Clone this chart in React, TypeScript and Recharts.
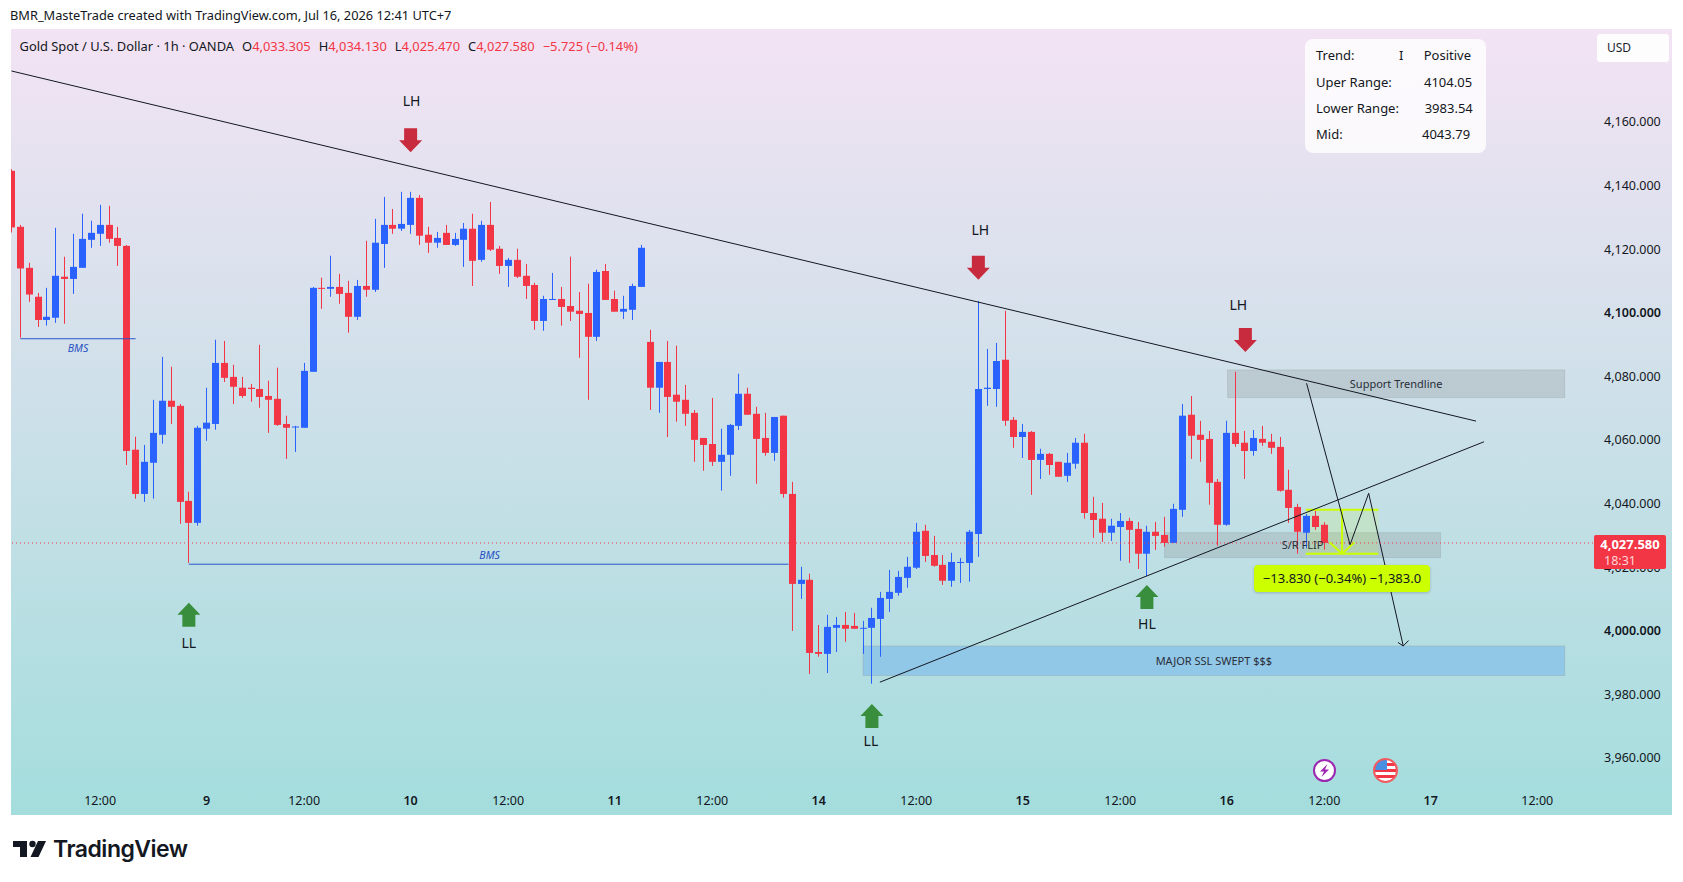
import React from "react"
import {
  Bar,
  ComposedChart,
  ReferenceArea,
  ReferenceDot,
  ReferenceLine,
  XAxis,
  YAxis,
} from "recharts"

const opens = [
  4144.6, 4127.0, 4114.1, 4105.0, 4097.7, 4098.4, 4111.3, 4110.6, 4114.1, 4122.9, 4124.8, 4127.6, 4123.5, 4121.0, 4056.9,
  4043.0, 4052.8, 4061.6, 4072.3, 4070.7, 4040.8, 4033.9, 4063.5, 4065.0, 4084.2, 4079.8, 4076.4, 4076.4, 4076.0, 4073.8,
  4072.9, 4065.0, 4063.9, 4063.8, 4081.4, 4107.8, 4107.5, 4108.1, 4106.2, 4098.7, 4108.4, 4107.2, 4121.6, 4127.6, 4126.4,
  4127.6, 4136.1, 4124.5, 4122.0, 4125.1, 4121.3, 4122.9, 4126.4, 4116.6, 4127.6, 4120.1, 4114.7, 4116.6, 4111.6, 4108.7,
  4097.4, 4104.0, 4104.3, 4102.1, 4100.6, 4099.9, 4092.4, 4113.1, 4104.3, 4100.3, 4100.9, 4108.1, 4090.8, 4076.4, 4084.5,
  4074.2, 4072.6, 4068.5, 4060.6, 4058.7, 4053.1, 4055.3, 4064.4, 4074.5, 4068.2, 4060.6, 4055.9, 4067.6, 4043.0, 4014.7,
  4016.0, 3993.3, 3992.7, 4000.9, 4001.8, 4001.5, 4000.6, 4000.9, 4003.7, 4010.0, 4011.9, 4016.6, 4019.8, 4031.4, 4023.8,
  4020.7, 4015.7, 4021.3, 4021.3, 4030.4, 4076.0, 4076.0, 4085.2, 4066.3, 4060.9, 4062.5, 4053.7, 4055.6, 4053.1, 4048.7,
  4052.5, 4059.1, 4037.0, 4035.2, 4030.8, 4032.6, 4034.5, 4032.0, 4024.2, 4031.1, 4030.1, 4027.6, 4038.0, 4067.9, 4061.6,
  4060.3, 4046.8, 4033.3, 4062.2, 4059.1, 4056.5, 4060.3, 4059.4, 4057.8, 4044.3, 4038.9, 4030.8, 4036.1, 4033.305,
]
const highs = [
  4145.1, 4127.6, 4115.7, 4106.2, 4107.8, 4126.7, 4117.6, 4124.8, 4131.1, 4128.9, 4133.9, 4133.6, 4127.0, 4121.3, 4061.0,
  4058.4, 4072.6, 4086.1, 4083.0, 4071.3, 4043.7, 4064.4, 4076.4, 4091.5, 4091.1, 4083.6, 4079.8, 4077.6, 4089.9, 4078.6,
  4082.7, 4067.6, 4064.4, 4084.2, 4108.1, 4111.0, 4117.9, 4112.2, 4110.0, 4110.3, 4122.6, 4129.5, 4136.4, 4132.6, 4138.0,
  4138.0, 4137.0, 4127.0, 4125.4, 4127.6, 4125.1, 4128.2, 4131.1, 4128.9, 4134.8, 4121.0, 4117.2, 4120.1, 4115.3, 4109.4,
  4105.3, 4112.5, 4108.1, 4117.6, 4106.5, 4109.1, 4113.5, 4115.3, 4106.9, 4105.3, 4109.1, 4121.3, 4094.6, 4084.5, 4091.1,
  4089.6, 4077.3, 4069.4, 4060.6, 4073.2, 4063.5, 4065.0, 4080.8, 4076.4, 4070.4, 4068.5, 4067.2, 4067.6, 4046.8, 4020.1,
  4017.9, 4001.8, 4005.0, 4004.3, 4005.9, 4005.6, 4003.1, 4007.2, 4012.2, 4019.1, 4018.8, 4023.2, 4033.9, 4033.3, 4029.8,
  4023.8, 4024.5, 4022.9, 4031.7, 4103.7, 4088.6, 4090.5, 4100.6, 4067.2, 4065.0, 4062.8, 4057.2, 4055.9, 4053.1, 4055.9,
  4060.6, 4061.9, 4042.1, 4040.2, 4035.2, 4037.0, 4035.5, 4034.2, 4033.0, 4034.2, 4035.8, 4039.9, 4071.3, 4073.8, 4066.0,
  4062.8, 4047.7, 4066.0, 4081.4, 4062.8, 4063.1, 4064.4, 4061.9, 4060.9, 4050.6, 4039.9, 4036.7, 4037.7, 4034.13,
]
const lows = [
  4125.2, 4092.1, 4103.4, 4095.5, 4095.9, 4096.8, 4096.5, 4105.9, 4114.1, 4120.4, 4121.0, 4122.0, 4114.7, 4052.1, 4041.5,
  4040.5, 4041.5, 4058.8, 4065.0, 4033.6, 4021.3, 4033.0, 4059.7, 4063.2, 4078.2, 4071.3, 4073.2, 4072.0, 4070.1, 4062.2,
  4064.4, 4054.0, 4056.2, 4063.8, 4081.4, 4101.2, 4105.0, 4102.8, 4093.7, 4097.7, 4105.0, 4106.5, 4114.1, 4124.8, 4125.7,
  4124.8, 4121.3, 4118.8, 4120.4, 4121.3, 4121.0, 4114.4, 4108.4, 4116.0, 4119.4, 4112.2, 4108.1, 4110.9, 4104.3, 4094.6,
  4094.3, 4104.0, 4095.9, 4097.4, 4085.8, 4072.6, 4091.1, 4104.0, 4100.3, 4098.0, 4097.7, 4108.1, 4069.4, 4068.5, 4060.9,
  4065.7, 4064.4, 4053.1, 4050.3, 4051.8, 4044.0, 4048.7, 4063.1, 4067.9, 4046.2, 4055.0, 4053.4, 4041.8, 3999.9, 4010.0,
  3986.4, 3991.8, 3986.7, 3993.3, 3996.5, 4000.6, 3992.7, 3983.3, 3991.8, 4005.9, 4011.0, 4013.5, 4019.4, 4021.6, 4020.1,
  4014.4, 4013.8, 4015.0, 4015.4, 4023.2, 4070.7, 4070.4, 4064.4, 4057.5, 4054.3, 4042.7, 4047.7, 4049.0, 4048.4, 4046.8,
  4050.9, 4035.2, 4029.2, 4027.9, 4028.2, 4022.0, 4021.3, 4019.4, 4017.2, 4025.4, 4026.4, 4027.6, 4035.8, 4054.0, 4053.1,
  4039.6, 4026.7, 4033.0, 4057.8, 4047.7, 4055.0, 4058.1, 4055.6, 4043.7, 4033.9, 4024.2, 4025.9, 4031.7, 4025.47,
]
const closes = [
  4126.8, 4113.9, 4105.7, 4097.7, 4098.7, 4111.6, 4110.6, 4114.4, 4123.2, 4125.1, 4127.6, 4123.2, 4121.0, 4056.5, 4043.0,
  4053.1, 4062.2, 4072.3, 4070.4, 4040.5, 4033.9, 4063.8, 4065.4, 4084.2, 4079.5, 4076.7, 4073.8, 4076.0, 4073.5, 4072.6,
  4064.7, 4063.8, 4064.2, 4081.7, 4107.8, 4107.5, 4108.1, 4105.9, 4098.7, 4108.4, 4107.2, 4122.0, 4127.6, 4126.4, 4127.9,
  4136.1, 4124.2, 4122.0, 4123.5, 4121.3, 4123.2, 4126.4, 4116.3, 4127.6, 4119.8, 4114.7, 4116.6, 4111.3, 4108.4, 4097.4,
  4104.3, 4104.3, 4101.8, 4100.3, 4099.6, 4092.4, 4112.8, 4104.0, 4100.3, 4101.2, 4108.4, 4120.4, 4076.4, 4084.5, 4073.5,
  4072.0, 4068.2, 4060.0, 4058.4, 4053.1, 4055.3, 4064.7, 4074.5, 4067.9, 4060.3, 4055.9, 4067.2, 4043.0, 4014.7, 4016.0,
  3993.0, 3992.7, 4001.2, 4001.8, 4000.6, 4000.6, 4000.9, 4004.0, 4010.3, 4012.2, 4016.9, 4020.1, 4031.1, 4023.5, 4020.4,
  4015.7, 4021.6, 4021.6, 4031.1, 4076.0, 4076.4, 4084.8, 4066.0, 4060.9, 4062.5, 4053.7, 4055.6, 4052.1, 4048.4, 4052.8,
  4059.1, 4037.0, 4034.8, 4030.8, 4033.0, 4034.5, 4031.7, 4024.2, 4031.1, 4029.8, 4027.6, 4038.3, 4067.6, 4061.3, 4060.0,
  4046.5, 4033.3, 4062.2, 4058.7, 4056.5, 4060.6, 4059.1, 4057.5, 4044.0, 4038.6, 4031.1, 4036.1, 4032.6, 4027.58,
]

const priceTicks = [3960, 3980, 4000, 4020, 4040, 4060, 4080, 4100, 4120, 4140, 4160]
const timeTicks = [10, 22, 33, 45, 56, 68, 79, 91, 102, 114, 125, 137, 148, 160, 172]
const timeLabels = ["12:00", "9", "12:00", "10", "12:00", "11", "12:00", "14", "12:00", "15", "12:00", "16", "12:00", "17", "12:00"]

// drawings, in bar index / price
const trendLines = [
  { from: [0, 4176.0], to: [165.1, 4065.9] },
  { from: [97.9, 3983.8], to: [166.0, 4059.4] },
]
const projection = [[146.0, 4077.8], [150.9, 4027.0], [153.0, 4043.2], [156.9, 3995.2]]
const projectionHead = [[156.3, 3996.3], [156.9, 3995.2], [157.5, 3996.9]]
const bmsLines = [
  { from: 1, to: 14, price: 4091.8 },
  { from: 20, to: 87.6, price: 4020.9 },
]
const zones = [
  { left: 137.1, right: 175.1, top: 4082.0, bottom: 4073.3, label: "Support Trendline", kind: "gray" },
  { left: 130.0, right: 161.1, top: 4030.8, bottom: 4023.0, label: "S/R FLIP", kind: "gray" },
  { left: 96.0, right: 175.1, top: 3995.2, bottom: 3985.9, label: "MAJOR SSL SWEPT $$$", kind: "blue" },
]
const bmsNotes = [
  { text: "BMS", bar: 7.5, price: 4089.0 },
  { text: "BMS", bar: 53.9, price: 4023.8 },
]
const swingMarks = [
  { label: "LH", bar: 45, price: 4154.2, down: true, textDx: 1, textDy: -39 },
  { label: "LH", bar: 109, price: 4114.1, down: true, textDx: 2, textDy: -38 },
  { label: "LH", bar: 139.1, price: 4091.4, down: true, textDx: -7, textDy: -35 },
  { label: "LL", bar: 20, price: 4005.0, down: false, textDx: 0, textDy: 28 },
  { label: "LL", bar: 97, price: 3973.2, down: false, textDx: -1, textDy: 25 },
  { label: "HL", bar: 128, price: 4010.6, down: false, textDx: 0, textDy: 27 },
]
const measure = { left: 145.9, right: 154.1, top: 4038.0, bottom: 4024.2, mid: 150.0, headBar: 1.4, headPrice: 4027.8 }
const lastPrice = 4027.58

const infoRows = [
  ["Trend:", "Positive", 1423.7, 56],
  ["Uper Range:", "4104.05", 1424, 83],
  ["Lower Range:", "3983.54", 1424.7, 109],
  ["Mid:", "4043.79", 1422, 135],
]
const ohlcLegend = [
  ["O", "4,033.305"],
  ["H", "4,034.130"],
  ["L", "4,025.470"],
  ["C", "4,027.580"],
]

const candles = opens.map((open, i) => ({
  i,
  open,
  close: closes[i],
  high: highs[i],
  low: lows[i],
  range: [lows[i], highs[i]],
}))

const RED = "#f23645"
const BLUE = "#2962ff"
const LIME = "#ccff00"
const FONT = "'Noto Sans', sans-serif"

function Candle(props: any) {
  const { x, y, width, height, payload } = props
  const color = payload.close >= payload.open ? BLUE : RED
  const k = height / (payload.high - payload.low)
  const top = y + (payload.high - Math.max(payload.open, payload.close)) * k
  const h = Math.max(1, Math.abs(payload.open - payload.close) * k)
  const cx = x + width / 2
  return (
    <g>
      <line x1={Math.floor(cx) + 0.5} x2={Math.floor(cx) + 0.5} y1={y} y2={y + height} stroke={color} strokeWidth={1} />
      <rect x={Math.floor(cx) - 3} y={top} width={7} height={h} fill={color} />
    </g>
  )
}

function PriceTick(props: any) {
  const { x, y, payload } = props
  return (
    <text x={x + 5} y={y + 4.5} fontSize={12.5} fontFamily={FONT} fill="#131722" fontWeight={payload.value % 100 === 0 ? 600 : 400}>
      {payload.value.toLocaleString("en-US", { minimumFractionDigits: 3 })}
    </text>
  )
}

function TimeTick(props: any) {
  const { x, payload } = props
  const label = timeLabels[timeTicks.indexOf(payload.value)]
  return (
    <text x={x} y={776} textAnchor="middle" fontSize={12.5} fontFamily={FONT} fill="#131722" fontWeight={label === "12:00" ? 400 : 600}>
      {label}
    </text>
  )
}

function SwingMark(props: any) {
  const { cx, cy, mark } = props
  const dir = mark.down ? 1 : -1
  const color = mark.down ? "#c92b3e" : "#388e3c"
  const pts = [
    [-6.5, -12], [6.5, -12], [6.5, 0], [11.5, 0], [0, 12], [-11.5, 0], [-6.5, 0],
  ].map(([a, b]) => `${cx + a},${cy + b * dir}`).join(" ")
  return (
    <g>
      <polygon points={pts} fill={color} />
      <text x={cx + mark.textDx} y={cy + mark.textDy + 5} textAnchor="middle" fontSize={14} fontFamily={FONT} fill="#131722">
        {mark.label}
      </text>
    </g>
  )
}

function Note(props: any) {
  const { cx, cy, text } = props
  return (
    <text x={cx} y={cy + 4} textAnchor="middle" fontSize={10.5} fontStyle="italic" fontFamily={FONT} fill="#2a50c4">
      {text}
    </text>
  )
}

function Segment({ from, to, color = "#131722", width = 1 }: any) {
  return (
    <ReferenceLine
      segment={[{ x: from[0], y: from[1] }, { x: to[0], y: to[1] }]}
      stroke={color}
      strokeWidth={width}
      ifOverflow="visible"
    />
  )
}

function Abs({ x, y, children, style }: any) {
  return (
    <div style={{ position: "absolute", left: x, top: y, whiteSpace: "nowrap", fontFamily: FONT, lineHeight: 1, ...style }}>
      {children}
    </div>
  )
}

export default function App() {
  return (
    <div style={{ position: "fixed", left: 0, top: 0, width: 1683, height: 882, background: "#fff", overflow: "hidden" }}>
      <Abs x={10} y={9} style={{ fontSize: 12.8, color: "#131722" }}>
        BMR_MasteTrade created with TradingView.com, Jul 16, 2026 12:41 UTC+7
      </Abs>

      <div
        style={{
          position: "absolute",
          left: 11,
          top: 29,
          width: 1661,
          height: 786,
          background: "linear-gradient(180deg, #f3e3f4 0%, #a4dddd 100%)",
        }}
      >
        <ComposedChart
          width={1661}
          height={786}
          data={candles}
          margin={{ top: 0, right: 0, bottom: 0, left: 0 }}
        >
          <XAxis
            dataKey="i"
            type="number"
            domain={[-0.05, 178.74]}
            allowDataOverflow
            ticks={timeTicks}
            interval={0}
            height={32}
            axisLine={false}
            tickLine={false}
            tick={<TimeTick />}
          />
          <YAxis
            orientation="right"
            type="number"
            domain={[3952.1, 4189.2]}
            allowDataOverflow
            ticks={priceTicks}
            interval={0}
            width={75}
            axisLine={false}
            tickLine={false}
            tickSize={0}
            tick={<PriceTick />}
          />
          <Bar dataKey="range" barSize={7} isAnimationActive={false} shape={<Candle />} />

          {zones.map((z) => (
            <ReferenceArea
              key={z.label}
              x1={z.left}
              x2={z.right}
              y1={z.bottom}
              y2={z.top}
              fill={z.kind === "blue" ? "#86bfe8" : "#8f979c"}
              fillOpacity={z.kind === "blue" ? 0.75 : 0.3}
              stroke="#8f979c"
              strokeOpacity={0.3}
              label={{ value: z.label, position: "center", fontSize: 11, fontFamily: FONT, fill: "#2a2e39" }}
            />
          ))}
          <ReferenceArea
            x1={measure.left}
            x2={measure.right}
            y1={measure.bottom}
            y2={measure.top}
            fill={LIME}
            fillOpacity={0.12}
            stroke="none"
          />
          {Segment({ from: [measure.left, measure.top], to: [measure.right, measure.top], color: LIME, width: 2 })}
          {Segment({ from: [measure.left, measure.bottom], to: [measure.right, measure.bottom], color: LIME, width: 2 })}
          {Segment({ from: [measure.mid, measure.top], to: [measure.mid, measure.bottom], color: LIME, width: 2 })}
          {Segment({ from: [measure.mid - measure.headBar, measure.headPrice], to: [measure.mid, measure.bottom], color: LIME, width: 2 })}
          {Segment({ from: [measure.mid + measure.headBar, measure.headPrice], to: [measure.mid, measure.bottom], color: LIME, width: 2 })}

          {trendLines.map((l) => Segment({ from: l.from, to: l.to }))}
          {projection.slice(1).map((p, i) => Segment({ from: projection[i], to: p }))}
          {projectionHead.slice(1).map((p, i) => Segment({ from: projectionHead[i], to: p }))}
          {bmsLines.map((l) => Segment({ from: [l.from, l.price], to: [l.to, l.price], color: "#2a55cc" }))}

          <ReferenceLine y={lastPrice} stroke={RED} strokeDasharray="1 3" strokeWidth={1} />

          {bmsNotes.map((n) => (
            <ReferenceDot key={n.bar} x={n.bar} y={n.price} ifOverflow="visible" shape={<Note text={n.text} />} />
          ))}
          {swingMarks.map((m) => (
            <ReferenceDot key={m.bar} x={m.bar} y={m.price} ifOverflow="visible" shape={<SwingMark mark={m} />} />
          ))}
        </ComposedChart>
      </div>

      {/* legend */}
      <Abs x={19.5} y={40} style={{ fontSize: 12.9, color: "#131722" }}>
        Gold Spot / U.S. Dollar · 1h · OANDA
        {ohlcLegend.map(([k, v]) => (
          <span key={k} style={{ marginLeft: 8 }}>
            {k}
            <span style={{ color: RED }}>{v}</span>
          </span>
        ))}
        <span style={{ color: RED, marginLeft: 8 }}>−5.725 (−0.14%)</span>
      </Abs>

      {/* info panel */}
      <div
        style={{
          position: "absolute",
          left: 1305,
          top: 39,
          width: 181,
          height: 114,
          borderRadius: 8,
          background: "rgba(255,255,255,0.8)",
        }}
      />
      {infoRows.map(([name, value, x, y]) => (
        <React.Fragment key={name as string}>
          <Abs x={1316} y={(y as number) - 7} style={{ fontSize: 13, color: "#131722" }}>{name}</Abs>
          <Abs x={x} y={(y as number) - 7} style={{ fontSize: 13, color: "#131722" }}>{value}</Abs>
        </React.Fragment>
      ))}
      <Abs x={1399} y={49} style={{ fontSize: 13, color: "#131722" }}>I</Abs>

      {/* measure label */}
      <div
        style={{
          position: "absolute",
          left: 1254,
          top: 565,
          width: 176,
          height: 27,
          borderRadius: 4,
          background: LIME,
          boxShadow: "0 1px 3px rgba(0,0,0,0.2)",
          fontFamily: FONT,
          fontSize: 13,
          lineHeight: "27px",
          textAlign: "center",
          color: "#131722",
        }}
      >
        −13.830 (−0.34%) −1,383.0
      </div>

      {/* scale labels */}
      <div
        style={{
          position: "absolute",
          left: 1597,
          top: 34,
          width: 72,
          height: 28,
          borderRadius: 3,
          background: "#fff",
          opacity: 0.95,
          fontFamily: FONT,
          fontSize: 12,
          lineHeight: "28px",
          paddingLeft: 10,
          boxSizing: "border-box",
          color: "#131722",
        }}
      >
        USD
      </div>
      <div
        style={{
          position: "absolute",
          left: 1594,
          top: 535,
          width: 72,
          height: 34,
          borderRadius: 2,
          background: "#f23645",
          fontFamily: FONT,
          textAlign: "center",
          color: "#fff",
        }}
      >
        <div style={{ fontSize: 13, fontWeight: 700, lineHeight: "17px", marginTop: 1 }}>4,027.580</div>
        <div style={{ fontSize: 12.5, lineHeight: "15px", color: "#ffd5d9", textAlign: "left", paddingLeft: 10 }}>18:31</div>
      </div>

      {/* event icons */}
      <svg style={{ position: "absolute", left: 1300, top: 750 }} width={110} height={45}>
        <circle cx={24.5} cy={20.5} r={10.5} fill="#fff" stroke="#9c27b0" strokeWidth={2} />
        <path d="M27.5 14 L20 21.5 L24 21.5 L21.5 27 L29 19.5 L25 19.5 Z" fill="#9c27b0" />
        <clipPath id="flag">
          <circle cx={85.5} cy={20.5} r={11} />
        </clipPath>
        <g clipPath="url(#flag)">
          <rect x={74} y={9} width={24} height={24} fill="#fff" />
          <rect x={74} y={25} width={24} height={3} fill="#f23645" />
          <rect x={74} y={19} width={24} height={3} fill="#f23645" />
          <rect x={74} y={13} width={24} height={3} fill="#f23645" />
          <rect x={74} y={9} width={13} height={11} fill="#4a90e2" />
        </g>
        <circle cx={85.5} cy={20.5} r={11.5} fill="none" stroke="#f05a60" strokeWidth={2} />
      </svg>

      {/* logo */}
      <svg style={{ position: "absolute", left: 12, top: 838 }} width={36} height={22}>
        <path d="M1 3 H15 V19 H8 V9 H1 Z" fill="#131722" />
        <circle cx={20.5} cy={6} r={3.2} fill="#131722" />
        <path d="M26 3 H34 L26.5 19 H18.5 Z" fill="#131722" />
      </svg>
      <Abs x={53} y={838} style={{ fontFamily: "Inter, sans-serif", fontSize: 23, fontWeight: 600, letterSpacing: -0.5, color: "#131722" }}>
        TradingView
      </Abs>
    </div>
  )
}
